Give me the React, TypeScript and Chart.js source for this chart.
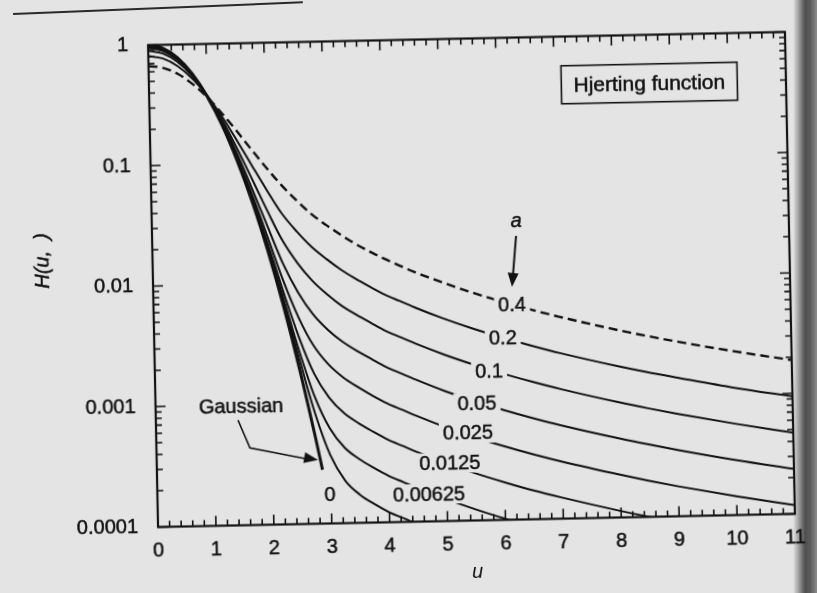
import React, { useEffect, useRef } from 'react';
import { Chart, registerables } from 'chart.js';

Chart.register(...registerables);

// ---- data ----
const U = [0, 0.25, 0.5, 0.75, 1, 1.25, 1.5, 1.75, 2, 2.25, 2.5, 2.75, 3, 3.25, 3.5, 3.75, 4, 4.25, 4.5, 5, 5.5, 6, 6.5, 7, 8, 8.5, 9, 10, 11];

const hA040 = [0.670, 0.644, 0.571, 0.469, 0.362, 0.264, 0.187, 0.130, 0.0913, 0.0655, 0.0489, 0.0375, 0.0302, 0.0249, 0.0208, 0.0178, 0.0154, 0.0135, 0.0119, 0.00956, 0.00781, 0.00653, 0.00552, 0.00474, 0.00360, 0.00318, 0.00283, 0.00229, 0.00189];
const hA020 = [0.809, 0.770, 0.663, 0.520, 0.373, 0.248, 0.156, 0.096, 0.0595, 0.0379, 0.0268, 0.0199, 0.0157, 0.0127, 0.0106, 0.00903, 0.00775, 0.00683, 0.00603, 0.00480, 0.00392, 0.00327, 0.00277, 0.00237, 0.00180, 0.00159, 0.00142, 0.00114, 0.000944];
const hA010 = [0.896, 0.848, 0.718, 0.545, 0.373, 0.233, 0.134, 0.0736, 0.0402, 0.0227, 0.0147, 0.0104, 0.00798, 0.00637, 0.00534, 0.00454, 0.00388, 0.00342, 0.00302, 0.00241, 0.00197, 0.00164, 0.00139, 0.00119, 0.000903, 0.000797, 0.00071, 0.000573, 0.000472];
const hA005 = [0.946, 0.892, 0.747, 0.557, 0.371, 0.222, 0.121, 0.0608, 0.0296, 0.0146, 0.00839, 0.00549, 0.00406, 0.00321, 0.00267, 0.00227, 0.00194, 0.00171, 0.00151, 0.00120, 0.000983, 0.000819, 0.000693, 0.000594, 0.000452, 0.000399, 0.000355, 0.000286, 0.000236];
const hA0025 = [0.972, 0.915, 0.763, 0.564, 0.370, 0.216, 0.113, 0.0539, 0.0240, 0.0105, 0.00519, 0.00301, 0.00209, 0.00162, 0.00134, 0.00113, 0.00097, 0.000856, 0.000756, 0.000602, 0.000491, 0.000409, 0.000346, 0.000297, 0.000226, 0.000199, 0.000177, 0.000143, 0.000118];
const hA00125 = [0.986, 0.927, 0.771, 0.567, 0.369, 0.213, 0.109, 0.0504, 0.0212, 0.00844, 0.00356, 0.00176, 0.00111, 0.000821, 0.000671, 0.000567, 0.000485, 0.000428, 0.000378, 0.000301, 0.000246, 0.000205, 0.000173, 0.000149, 0.000113, 0.0000996, 0.0000887, null, null];
const hA000625 = [0.993, 0.933, 0.775, 0.568, 0.368, 0.211, 0.107, 0.0486, 0.0198, 0.00739, 0.00274, 0.00114, 0.000616, 0.000423, 0.000338, 0.000284, 0.000243, 0.000214, 0.000189, 0.000151, 0.000123, 0.000102, 0.0000866, null, null, null, null, null, null];
const hA0003125 = [0.997, 0.936, 0.777, 0.569, 0.368, 0.210, 0.106, 0.0477, 0.0190, 0.00686, 0.00234, 0.00083, 0.000369, 0.000225, 0.000171, 0.000142, 0.000121, 0.000107, 0.0000945, null, null, null, null, null, null, null, null, null, null];

const gaussU = [0, 0.25, 0.5, 0.75, 1, 1.25, 1.5, 1.75, 2, 2.25, 2.5, 2.75, 2.86];
const gaussH = [1, 0.939, 0.779, 0.570, 0.368, 0.210, 0.105, 0.0468, 0.0183, 0.00633, 0.00193, 0.000519, 0.00028];

const xTickValues = [0, 1, 2, 3, 4, 5, 6, 7, 8, 9, 10, 11];
const yTickValues = [0.0001, 0.001, 0.01, 0.1, 1];
const yTickLabels = ['0.0001', '0.001', '0.01', '0.1', '1'];

const curveLabels = ['0.4', '0.2', '0.1', '0.05', '0.025', '0.0125', '0.00625', '0'];
const curveLabelU = [6.19, 6.02, 5.77, 5.55, 5.385, 5.06, 4.69, 2.98];
const curveLabelH = [0.00605, 0.00323, 0.00173, 0.00094, 0.000533, 0.000303, 0.000169, 0.000175];

const BG = '#e4e4e4';
const INK = '#121212';
const FONT = '"Liberation Sans", Arial, Helvetica, sans-serif';
const TEXT_STROKE = 0.5;

function pts(xs: number[], ys: (number | null)[]) {
  return xs.map((x, i) => ({ x, y: ys[i] }));
}

function inkText(ctx: CanvasRenderingContext2D, t: string, x: number, y: number) {
  ctx.fillText(t, x, y);
  ctx.lineWidth = TEXT_STROKE;
  ctx.strokeText(t, x, y);
}

function arrowHead(ctx: CanvasRenderingContext2D, x0: number, y0: number, x1: number, y1: number, len: number, half: number) {
  const ang = Math.atan2(y1 - y0, x1 - x0);
  const c = Math.cos(ang), s = Math.sin(ang);
  const bx = x1 - c * len, by = y1 - s * len;
  ctx.beginPath();
  ctx.moveTo(x1, y1);
  ctx.lineTo(bx - s * half, by + c * half);
  ctx.lineTo(bx + s * half, by - c * half);
  ctx.closePath();
  ctx.fill();
}

const overlayPlugin = {
  id: 'overlay',
  afterDatasetsDraw(chart: any) {
    const ctx: CanvasRenderingContext2D = chart.ctx;
    const xs = chart.scales.x;
    const ys = chart.scales.y;
    const { left, right, top, bottom } = chart.chartArea;
    ctx.save();
    ctx.strokeStyle = INK;
    ctx.fillStyle = INK;

    // inward tick marks on all four sides
    ctx.lineWidth = 1.6;
    ctx.beginPath();
    for (let i = 0; i <= 55; i++) {
      const px = xs.getPixelForValue(i / 5);
      const len = i % 5 === 0 ? 10 : 6;
      ctx.moveTo(px, bottom); ctx.lineTo(px, bottom - len);
      ctx.moveTo(px, top); ctx.lineTo(px, top + len);
    }
    for (let d = -4; d <= 0; d++) {
      for (let k = 1; k <= 9; k++) {
        const v = k * Math.pow(10, d);
        if (v > 1.0001) break;
        const py = ys.getPixelForValue(v);
        const len = k === 1 ? 10 : 6;
        ctx.moveTo(left, py); ctx.lineTo(left + len, py);
        ctx.moveTo(right, py); ctx.lineTo(right - len, py);
      }
    }
    ctx.stroke();

    // frame
    ctx.lineWidth = 2.2;
    ctx.strokeRect(left, top, right - left, bottom - top);

    // curve labels with a gap in the line
    ctx.font = `20px ${FONT}`;
    ctx.textAlign = 'center';
    ctx.textBaseline = 'middle';
    curveLabels.forEach((t, i) => {
      const px = xs.getPixelForValue(curveLabelU[i]);
      const py = ys.getPixelForValue(curveLabelH[i]);
      const w = ctx.measureText(t).width;
      ctx.fillStyle = BG;
      ctx.fillRect(px - w / 2 - 4, py - 10, w + 8, 20);
      ctx.fillStyle = INK;
      inkText(ctx, t, px, py + 1);
    });

    // "a" with arrow
    ctx.font = `italic 20px ${FONT}`;
    inkText(ctx, 'a', xs.getPixelForValue(6.29), ys.getPixelForValue(0.0295));
    {
      const x0 = xs.getPixelForValue(6.285), y0 = ys.getPixelForValue(0.0226);
      const x1 = xs.getPixelForValue(6.197), y1 = ys.getPixelForValue(0.00853);
      ctx.lineWidth = 2;
      ctx.beginPath(); ctx.moveTo(x0, y0); ctx.lineTo(x1 + (x0 - x1) * 0.2, y1 + (y0 - y1) * 0.2); ctx.stroke();
      arrowHead(ctx, x0, y0, x1, y1, 14, 5.5);
    }

    // "Gaussian" with bent arrow
    ctx.font = `20px ${FONT}`;
    inkText(ctx, 'Gaussian', xs.getPixelForValue(1.475), ys.getPixelForValue(0.00096));
    {
      const p = [[1.418, 0.000748], [1.615, 0.000437], [2.786, 0.000338]].map(([u, h]) => [xs.getPixelForValue(u), ys.getPixelForValue(h)]);
      ctx.lineWidth = 1.6;
      ctx.beginPath();
      ctx.moveTo(p[0][0], p[0][1]);
      ctx.lineTo(p[1][0], p[1][1]);
      ctx.lineTo(p[2][0] - 10, p[2][1] - 1);
      ctx.stroke();
      arrowHead(ctx, p[1][0], p[1][1], p[2][0], p[2][1], 14, 5.5);
    }

    // title box
    {
      const cx = xs.getPixelForValue(8.64), cy = ys.getPixelForValue(0.398);
      ctx.lineWidth = 1.6;
      ctx.strokeRect(cx - 88, cy - 19, 176, 38);
      ctx.font = `21px ${FONT}`;
      inkText(ctx, 'Hjerting function', cx, cy + 1);
    }

    // y-axis title
    {
      ctx.save();
      ctx.translate(left - 110, (top + bottom) / 2 - 27.5);
      ctx.rotate(-Math.PI / 2);
      ctx.font = `italic 20px ${FONT}`;
      inkText(ctx, 'H(u,  )', 0, 0);
      ctx.restore();
    }
    ctx.restore();
  },
};

export default function App() {
  const ref = useRef<HTMLCanvasElement | null>(null);
  useEffect(() => {
    if (!ref.current) return;
    const solid = (data: any, width = 2) => ({
      data,
      borderColor: INK,
      borderWidth: width,
      pointRadius: 0,
      fill: false,
      spanGaps: false,
      cubicInterpolationMode: 'monotone' as const,
    });
    const tickFont = { family: FONT, size: 20 };
    const chart = new Chart(ref.current, {
      type: 'line',
      data: {
        datasets: [
          { ...solid(pts(U, hA040), 2.4), borderDash: [9, 5], label: 'a = 0.4' },
          { ...solid(pts(U, hA020)), label: 'a = 0.2' },
          { ...solid(pts(U, hA010)), label: 'a = 0.1' },
          { ...solid(pts(U, hA005)), label: 'a = 0.05' },
          { ...solid(pts(U, hA0025)), label: 'a = 0.025' },
          { ...solid(pts(U, hA00125)), label: 'a = 0.0125' },
          { ...solid(pts(U, hA000625)), label: 'a = 0.00625' },
          { ...solid(pts(U, hA0003125)), label: 'a = 0.003125' },
          { ...solid(pts(gaussU, gaussH), 3), label: 'a = 0 (Gaussian)' },
        ],
      },
      options: {
        animation: false,
        responsive: false,
        layout: { padding: { top: 38.5, right: 27, left: 0, bottom: 0 } },
        plugins: { legend: { display: false }, tooltip: { enabled: false } },
        scales: {
          x: {
            type: 'linear',
            min: 0,
            max: 11,
            afterBuildTicks: (s: any) => { s.ticks = xTickValues.map((v) => ({ value: v })); },
            ticks: { font: tickFont, color: INK, padding: 11.5, maxRotation: 0, autoSkip: false, textStrokeColor: INK, textStrokeWidth: TEXT_STROKE },
            grid: { display: false, drawTicks: false },
            border: { display: false },
            title: { display: true, text: 'u', color: INK, font: { family: FONT, size: 20, style: 'italic' }, padding: { top: 0, bottom: 9 } },
            afterFit: (s: any) => { s.height = 72.5; },
          },
          y: {
            type: 'logarithmic',
            min: 0.0001,
            max: 1,
            afterBuildTicks: (s: any) => { s.ticks = yTickValues.map((v) => ({ value: v })); },
            ticks: { callback: (_v: any, i: number) => yTickLabels[i], font: tickFont, color: INK, padding: 20, autoSkip: false, textStrokeColor: INK, textStrokeWidth: TEXT_STROKE },
            grid: { display: false, drawTicks: false },
            border: { display: false },
            afterFit: (s: any) => { s.width = 153; },
          },
        },
      } as any,
      plugins: [overlayPlugin],
    });
    return () => chart.destroy();
  }, []);

  return (
    <div
      style={{
        position: 'fixed',
        left: 0,
        top: 0,
        width: 817,
        height: 593,
        overflow: 'hidden',
        background: `linear-gradient(to right, ${BG} 0px, ${BG} 793px, #9a9a9a 799px, #505050 805px, #5a5a5a 810px, #8c8c8c 817px)`,
      }}
    >
      <div
        style={{
          position: 'absolute',
          left: 13,
          top: 13,
          width: 290,
          height: 2,
          background: '#2a2a2a',
          transform: 'rotate(-2.3deg)',
          transformOrigin: '0 0',
        }}
      />
      <div
        style={{
          position: 'absolute',
          left: 0,
          top: 0,
          width: 817,
          height: 593,
          transform: 'rotate(-1.186deg)',
          transformOrigin: '471.5px 279.5px',
        }}
      >
        <canvas ref={ref} width={817} height={593} style={{ display: 'block' }} />
      </div>
    </div>
  );
}
